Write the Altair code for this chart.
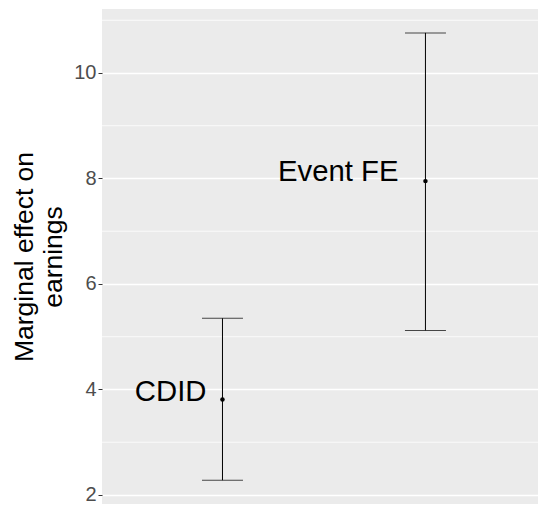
import altair as alt
import pandas as pd

models = ["CDID", "Event FE"]
estimate = [3.81, 7.95]
lower = [2.28, 5.12]
upper = [5.35, 10.76]
major_ticks = [2, 4, 6, 8, 10]
minor_ticks = [3, 5, 7, 9, 11]

df = pd.DataFrame({"model": models, "est": estimate, "lo": lower, "hi": upper})
minor_df = pd.DataFrame({"v": minor_ticks})

FONT = "Liberation Sans"
yscale = alt.Scale(domain=[1.829, 11.213], nice=False, zero=False)
xscale = alt.Scale(type="point", padding=0.574, align=0.517, domain=models)

x = alt.X("model:N", scale=xscale, axis=None)

minor = alt.Chart(minor_df).mark_rule(color="white", strokeWidth=0.8).encode(
    y=alt.Y("v:Q", scale=yscale)
)

base = alt.Chart(df)

yaxis = alt.Axis(
    values=major_ticks,
    grid=True,
    gridColor="white",
    gridWidth=1.4,
    domain=False,
    tickColor="#333333",
    tickSize=4,
    tickWidth=1,
    labelFont=FONT,
    labelFontSize=20,
    labelColor="#4D4D4D",
    labelPadding=2,
    title=["Marginal effect on", "earnings"],
    titleFont=FONT,
    titleFontSize=26.5,
    titleFontWeight="normal",
    titleColor="black",
    titleLineHeight=29,
    titlePadding=6,
)

rule = base.mark_rule(color="black", strokeWidth=1).encode(
    x=x,
    y=alt.Y("lo:Q", scale=yscale, axis=yaxis),
    y2="hi:Q",
)
cap_lo = base.mark_tick(color="black", size=41, thickness=1).encode(
    x=x, y=alt.Y("lo:Q", scale=yscale)
)
cap_hi = base.mark_tick(color="black", size=41, thickness=1).encode(
    x=x, y=alt.Y("hi:Q", scale=yscale)
)
pts = base.mark_circle(color="black", size=20, opacity=1).encode(
    x=x, y=alt.Y("est:Q", scale=yscale)
)
lab1 = base.transform_filter(alt.datum.model == models[0]).mark_text(
    align="right", baseline="alphabetic", dx=-16, dy=1, font=FONT, fontSize=29.3, color="black"
).encode(x=x, y=alt.Y("est:Q", scale=yscale), text="model:N")
lab2 = base.transform_filter(alt.datum.model == models[1]).mark_text(
    align="right", baseline="alphabetic", dx=-27, dy=0, font=FONT, fontSize=29.3, color="black"
).encode(x=x, y=alt.Y("est:Q", scale=yscale), text="model:N")

chart = alt.layer(minor, rule, cap_lo, cap_hi, pts, lab1, lab2).properties(
    width=436,
    height=495,
    autosize="none",
    padding={"left": 94, "top": 1, "right": 0, "bottom": 0},
    background="white",
).configure_view(fill="#EBEBEB", stroke=None)

chart.save("out.html", embed_options={"renderer": "svg", "actions": False})
